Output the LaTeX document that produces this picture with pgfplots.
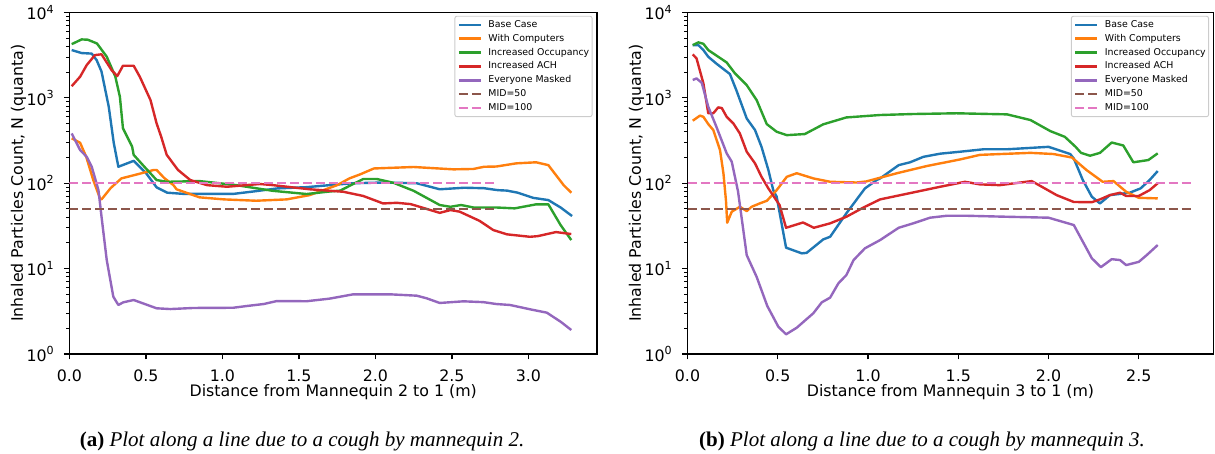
\documentclass[border=0pt]{standalone}
\usepackage{fontspec}
\setmainfont{DejaVu Sans}
\newfontfamily\capfont{Liberation Serif}
\usepackage{pgfplots}
\pgfplotsset{compat=1.18}

\definecolor{tabblue}{HTML}{1F77B4}
\definecolor{taborange}{HTML}{FF7F0E}
\definecolor{tabgreen}{HTML}{2CA02C}
\definecolor{tabred}{HTML}{D62728}
\definecolor{tabpurple}{HTML}{9467BD}
\definecolor{tabbrown}{HTML}{8C564B}
\definecolor{tabpink}{HTML}{E377C2}
\definecolor{legframe}{HTML}{CCCCCC}

\newcommand\ticksize{\fontsize{15.8}{18}\selectfont}
\newcommand\tp[1]{10\raisebox{0.42em}{\fontsize{11.1}{12}\selectfont #1}}

\tikzset{
  mid50/.style={tabbrown, line width=2.4pt, dash pattern=on 9pt off 4pt},
  mid100/.style={tabpink, line width=2.4pt, dash pattern=on 9pt off 4pt},
}

% common look of both panels
\pgfplotsset{
  scale only axis,
  height=341.5pt,
  ymin=1, ymax=10000, xmin=0,
  axis line style={line width=1.2pt, black},
  tick pos=left, tick align=outside,
  major tick length=5.5pt, minor tick length=3.2pt,
  every major tick/.style={line width=1.2pt, black},
  every minor tick/.style={line width=0.9pt, black},
  ytick={1,10,100,1000,10000},
  yticklabels={\tp{0},\tp{1},\tp{2},\tp{3},\tp{4}},
  minor ytick={2,3,...,9,20,30,...,90,200,300,...,900,2000,3000,...,9000},
  tick label style={font=\ticksize},
  xticklabel style={anchor=base, inner sep=0pt, yshift=-22pt},
  yticklabel style={anchor=east, inner sep=0pt, xshift=-10pt},
  every axis y label/.style={at={([xshift=-51pt]axis description cs:0,0.5)},
    rotate=90, anchor=center, font=\ticksize},
  every axis x label/.style={at={([yshift=-43pt]axis description cs:0.5,0)},
    anchor=base, font=\ticksize},
  every axis plot/.append style={line width=2.4pt, line join=round},
  legend image code/.code={\draw[#1] (0pt,0pt) -- (22pt,0pt);},
  legend cell align=left,
  legend style={at={(1,1)}, anchor=north east, xshift=-4.5pt, yshift=-3.3pt,
    draw=legframe, line width=0.9pt, fill=white, fill opacity=0.8, text opacity=1,
    rounded corners=2pt, inner xsep=2.8pt, inner ysep=4pt,
    font=\fontsize{9.4}{11}\selectfont,
    nodes={inner sep=0pt, text height=7pt, text depth=2pt},
    row sep=4.9pt, column sep=6.3pt},
}

\begin{document}
\begin{tikzpicture}[x=1pt, y=1pt]
\path[use as bounding box] (0,0) rectangle (1215,454);

% ---------- (a) cough by mannequin 2 ----------
\begin{semilogyaxis}[anchor=south west, at={(69.4pt,100pt)}, width=527.6pt, xmax=3.448,
  xtick={0,0.5,1,1.5,2,2.5,3},
  xticklabels={0.0,0.5,1.0,1.5,2.0,2.5,3.0},
  xlabel={Distance from Mannequin 2 to 1 (m)},
  ylabel={Inhaled Particles Count, N (quanta)}]
\addplot[tabblue] coordinates {
 (0.015,3630)(0.08,3350)(0.146,3300)(0.178,2770)(0.21,2030)(0.257,790)(0.29,296)
 (0.32,156)(0.42,183)(0.50,132)(0.57,89.5)(0.64,77.5)(0.75,75)(0.9,75)(1.07,75)
 (1.2,80)(1.36,87)(1.55,90)(1.70,95)(1.85,100)(2.05,102)(2.27,100)(2.42,85)
 (2.58,88.6)(2.71,87.5)(2.80,83)(2.86,82)(2.93,77.5)(3.03,67.5)(3.13,63.5)
 (3.21,52)(3.285,41.3)};
\addlegendentry{Base Case}
\addplot[taborange] coordinates {
 (0.015,336)(0.07,298)(0.11,204)(0.156,109)(0.20,66.5)(0.21,64.7)(0.27,88)
 (0.34,114)(0.45,128)(0.55,143)(0.57,143)(0.62,115)(0.68,95)(0.70,85)(0.85,68.4)
 (1.01,64.7)(1.22,62.4)(1.42,64.7)(1.57,72.6)(1.75,95)(1.83,114)(1.90,127)
 (1.99,149)(2.25,155)(2.51,145.5)(2.64,147)(2.71,156)(2.79,157)(2.92,171)
 (3.05,176)(3.13,163)(3.23,95)(3.28,77.5)};
\addlegendentry{With Computers}
\addplot[tabgreen] coordinates {
 (0.015,4260)(0.08,4840)(0.12,4800)(0.18,4340)(0.244,3040)(0.30,1780)(0.33,1030)
 (0.35,440)(0.41,268)(0.42,215)(0.49,156)(0.57,109)(0.636,104)(0.85,106)
 (0.96,101)(1.09,95)(1.33,81.5)(1.55,74.8)(1.70,80)(1.77,82)(1.84,95)(1.92,112)
 (2.01,112)(2.12,101)(2.25,81.5)(2.42,55.6)(2.49,53)(2.56,55.6)(2.64,52)
 (2.79,52)(2.91,50.8)(3.05,56.6)(3.13,56.6)(3.21,32.4)(3.28,21.6)};
\addlegendentry{Increased Occupancy}
\addplot[tabred] coordinates {
 (0.015,1370)(0.07,1770)(0.113,2420)(0.167,3170)(0.21,3240)(0.276,2110)
 (0.313,1800)(0.35,2380)(0.42,2380)(0.46,1770)(0.53,942)(0.57,502)(0.60,350)
 (0.636,215)(0.71,143)(0.79,109)(0.90,95)(1.03,91)(1.245,98)(1.33,95)(1.57,85)
 (1.79,79.5)(1.92,71)(2.05,58)(2.14,59)(2.23,57)(2.42,45)(2.49,48.5)(2.55,46.5)
 (2.68,36.3)(2.77,28.3)(2.86,25.2)(3.01,23.6)(3.06,24)(3.18,26.8)(3.28,25.4)};
\addlegendentry{Increased ACH}
\addplot[tabpurple] coordinates {
 (0.015,383)(0.07,245)(0.113,204)(0.146,156)(0.19,83)(0.21,40.5)(0.244,12.6)
 (0.287,4.69)(0.32,3.75)(0.352,4.03)(0.42,4.29)(0.57,3.43)(0.66,3.36)(0.81,3.46)
 (1.07,3.48)(1.16,3.65)(1.27,3.85)(1.355,4.17)(1.55,4.15)(1.70,4.45)(1.855,5.0)
 (2.095,5.0)(2.27,4.82)(2.335,4.49)(2.42,3.96)(2.575,4.14)(2.705,4.05)
 (2.79,3.85)(2.88,3.75)(3.01,3.34)(3.12,3.05)(3.21,2.39)(3.28,1.91)};
\addlegendentry{Everyone Masked}
\addplot[mid50] coordinates {(0,50)(2.8,50)};
\addlegendentry{MID=50}
\addplot[mid100] coordinates {(0,100)(2.8,100)};
\addlegendentry{MID=100}
\end{semilogyaxis}

% ---------- (b) cough by mannequin 3 ----------
\begin{semilogyaxis}[anchor=south west, at={(687.5pt,100pt)}, width=526pt, xmax=2.914,
  xtick={0,0.5,1,1.5,2,2.5},
  xticklabels={0.0,0.5,1.0,1.5,2.0,2.5},
  xlabel={Distance from Mannequin 3 to 1 (m)},
  ylabel={Inhaled Particles Count, N (quanta)}]
\addplot[tabblue] coordinates {
 (0.029,4150)(0.06,4150)(0.088,3630)(0.115,3030)(0.16,2520)(0.235,1900)(0.27,1240)
 (0.328,574)(0.374,420)(0.41,267)(0.448,143)(0.475,83)(0.494,69.5)(0.546,17.6)
 (0.633,15.1)(0.66,15.3)(0.752,22)(0.79,23.6)(0.88,44.4)(0.983,87)(1.048,109)
 (1.067,114)(1.17,163)(1.233,176)(1.307,204)(1.40,222)(1.51,234)(1.64,250)
 (1.77,250)(2.0,267)(2.12,220)(2.14,195)(2.19,109)(2.24,69.5)(2.285,58)
 (2.34,72.6)(2.45,77.5)(2.51,87)(2.56,109)(2.605,139)};
\addlegendentry{Base Case}
\addplot[taborange] coordinates {
 (0.029,540)(0.069,620)(0.088,600)(0.115,493)(0.143,420)(0.18,245)(0.199,131)
 (0.213,63)(0.22,34.5)(0.245,46.4)(0.29,53)(0.328,47.2)(0.355,53)(0.40,58)
 (0.44,62.4)(0.494,83)(0.55,119)(0.605,131)(0.697,114)(0.79,104)(0.937,102)
 (0.99,105)(1.16,131)(1.325,159)(1.51,190)(1.62,215)(1.90,227)(2.027,220)
 (2.13,200)(2.21,143)(2.30,104)(2.36,106)(2.43,79.5)(2.50,67.5)(2.605,66.5)};
\addlegendentry{With Computers}
\addplot[tabgreen] coordinates {
 (0.029,4150)(0.06,4470)(0.088,4300)(0.115,3630)(0.217,2600)(0.263,1935)
 (0.328,1410)(0.383,942)(0.439,493)(0.494,401)(0.55,366)(0.65,377)(0.752,490)
 (0.88,590)(1.067,630)(1.25,647)(1.49,660)(1.77,641)(1.90,550)(2.01,408)
 (2.09,350)(2.15,267)(2.18,227)(2.23,210)(2.285,227)(2.35,300)(2.414,277)
 (2.47,176)(2.553,187)(2.605,224)};
\addlegendentry{Increased Occupancy}
\addplot[tabred] coordinates {
 (0.029,3230)(0.05,2900)(0.088,1480)(0.115,660)(0.143,660)(0.17,774)(0.19,760)
 (0.217,600)(0.254,502)(0.29,383)(0.328,234)(0.374,171)(0.41,119)(0.448,87)
 (0.51,55.6)(0.546,30.1)(0.64,34.7)(0.70,30.1)(0.79,33.9)(0.88,40.5)(0.975,52)
 (1.067,64.7)(1.25,78)(1.40,91)(1.537,104)(1.62,97)(1.73,95)(1.907,106)
 (2.045,72.6)(2.14,60.3)(2.24,60)(2.285,64.7)(2.34,72.6)(2.396,77.5)(2.43,71)
 (2.50,71)(2.56,83)(2.605,100)};
\addlegendentry{Increased ACH}
\addplot[tabpurple] coordinates {
 (0.029,1620)(0.05,1690)(0.079,1500)(0.115,787)(0.16,459)(0.217,224)(0.245,179)
 (0.28,80)(0.328,14.4)(0.383,8.0)(0.442,3.65)(0.503,2.09)(0.546,1.70)(0.605,2.03)
 (0.697,3.0)(0.744,4.03)(0.79,4.57)(0.836,6.73)(0.88,8.4)(0.92,12.6)(0.983,17.3)
 (1.067,21.6)(1.17,30.1)(1.25,33.9)(1.344,39.5)(1.436,41.6)(1.547,41.6)
 (1.77,40.5)(2.0,39.5)(2.14,32.4)(2.24,13.2)(2.29,10.4)(2.35,12.9)(2.396,12.6)
 (2.43,11.0)(2.50,12.0)(2.544,14.4)(2.605,18.9)};
\addlegendentry{Everyone Masked}
\addplot[mid50] coordinates {(0,50)(2.8,50)};
\addlegendentry{MID=50}
\addplot[mid100] coordinates {(0,100)(2.8,100)};
\addlegendentry{MID=100}
\end{semilogyaxis}

% captions
\node[anchor=base, font=\capfont\fontsize{21}{24}\selectfont] at (302,7)
  {\textbf{(a)} \textit{Plot along a line due to a cough by mannequin 2.}};
\node[anchor=base, font=\capfont\fontsize{21}{24}\selectfont] at (922,7)
  {\textbf{(b)} \textit{Plot along a line due to a cough by mannequin 3.}};
\end{tikzpicture}
\end{document}
